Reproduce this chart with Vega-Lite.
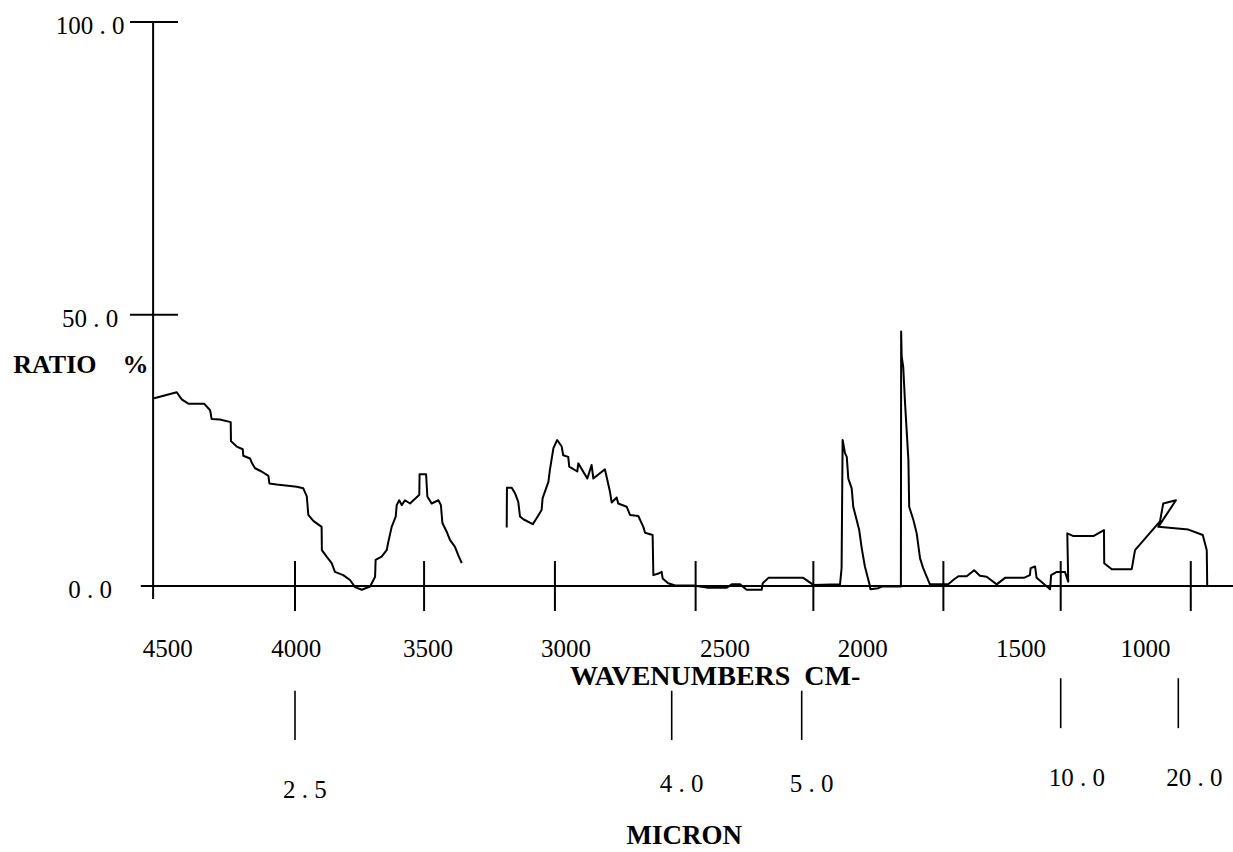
{
  "$schema": "https://vega.github.io/schema/vega-lite/v6.json",
  "width": 1233,
  "height": 852,
  "autosize": "none",
  "padding": 0,
  "background": "white",
  "config": {"view": {"stroke": null}, "font": "Liberation Serif"},
  "datasets": {
    "spectrum": [
      {"i":1,"s":1,"w":4561,"r":34.6},{"i":2,"s":1,"w":4471,"r":35.7},{"i":3,"s":1,"w":4451,"r":34.4},{"i":4,"s":1,"w":4425,"r":33.6},
      {"i":5,"s":1,"w":4362,"r":33.6},{"i":6,"s":1,"w":4338,"r":32.4},{"i":7,"s":1,"w":4332,"r":30.8},{"i":8,"s":1,"w":4299,"r":30.7},
      {"i":9,"s":1,"w":4256,"r":30.2},{"i":10,"s":1,"w":4255,"r":26.7},{"i":11,"s":1,"w":4232,"r":25.7},{"i":12,"s":1,"w":4208,"r":25.2},
      {"i":13,"s":1,"w":4206,"r":24.0},{"i":14,"s":1,"w":4179,"r":23.5},{"i":15,"s":1,"w":4172,"r":22.7},{"i":16,"s":1,"w":4159,"r":21.7},
      {"i":17,"s":1,"w":4133,"r":21.1},{"i":18,"s":1,"w":4106,"r":20.3},{"i":19,"s":1,"w":4102,"r":18.9},{"i":20,"s":1,"w":4073,"r":18.7},
      {"i":21,"s":1,"w":3993,"r":18.3},{"i":22,"s":1,"w":3967,"r":18.0},{"i":23,"s":1,"w":3953,"r":16.5},{"i":24,"s":1,"w":3947,"r":13.1},
      {"i":25,"s":1,"w":3927,"r":12.0},{"i":26,"s":1,"w":3894,"r":10.9},{"i":27,"s":1,"w":3893,"r":6.6},{"i":28,"s":1,"w":3874,"r":5.4},
      {"i":29,"s":1,"w":3854,"r":4.2},{"i":30,"s":1,"w":3841,"r":2.6},{"i":31,"s":1,"w":3808,"r":2.0},{"i":32,"s":1,"w":3781,"r":1.1},
      {"i":33,"s":1,"w":3761,"r":-0.2},{"i":34,"s":1,"w":3734,"r":-0.7},{"i":35,"s":1,"w":3701,"r":-0.1},{"i":36,"s":1,"w":3681,"r":1.7},
      {"i":37,"s":1,"w":3679,"r":4.8},{"i":38,"s":1,"w":3655,"r":5.4},{"i":39,"s":1,"w":3635,"r":6.6},{"i":40,"s":1,"w":3628,"r":8.2},
      {"i":41,"s":1,"w":3615,"r":10.9},{"i":42,"s":1,"w":3599,"r":12.8},{"i":43,"s":1,"w":3595,"r":14.9},{"i":44,"s":1,"w":3585,"r":15.8},
      {"i":45,"s":1,"w":3575,"r":14.9},{"i":46,"s":1,"w":3562,"r":15.8},{"i":47,"s":1,"w":3542,"r":15.2},{"i":48,"s":1,"w":3505,"r":16.8},
      {"i":49,"s":1,"w":3504,"r":20.6},{"i":50,"s":1,"w":3478,"r":20.6},{"i":51,"s":1,"w":3473,"r":16.5},{"i":52,"s":1,"w":3456,"r":15.2},
      {"i":53,"s":1,"w":3429,"r":15.8},{"i":54,"s":1,"w":3419,"r":14.9},{"i":55,"s":1,"w":3413,"r":11.6},{"i":56,"s":1,"w":3396,"r":10.0},
      {"i":57,"s":1,"w":3383,"r":8.5},{"i":58,"s":1,"w":3363,"r":7.2},{"i":59,"s":1,"w":3350,"r":5.7},{"i":60,"s":1,"w":3336,"r":4.2},
      {"i":101,"s":2,"w":3157,"r":10.8},{"i":102,"s":2,"w":3156,"r":18.1},{"i":103,"s":2,"w":3137,"r":18.1},{"i":104,"s":2,"w":3124,"r":17.1},
      {"i":105,"s":2,"w":3111,"r":15.5},{"i":106,"s":2,"w":3104,"r":12.8},{"i":107,"s":2,"w":3091,"r":12.3},{"i":108,"s":2,"w":3053,"r":11.4},
      {"i":109,"s":2,"w":3038,"r":12.5},{"i":110,"s":2,"w":3018,"r":14.0},{"i":111,"s":2,"w":3014,"r":16.2},{"i":112,"s":2,"w":2991,"r":19.2},
      {"i":113,"s":2,"w":2985,"r":21.4},{"i":114,"s":2,"w":2971,"r":25.4},{"i":115,"s":2,"w":2956,"r":26.9},{"i":116,"s":2,"w":2938,"r":25.7},
      {"i":117,"s":2,"w":2932,"r":24.1},{"i":118,"s":2,"w":2912,"r":23.8},{"i":119,"s":2,"w":2908,"r":22.0},{"i":120,"s":2,"w":2876,"r":21.1},
      {"i":121,"s":2,"w":2872,"r":22.6},{"i":122,"s":2,"w":2836,"r":19.8},{"i":123,"s":2,"w":2819,"r":22.3},{"i":124,"s":2,"w":2812,"r":19.8},
      {"i":125,"s":2,"w":2766,"r":21.5},{"i":126,"s":2,"w":2746,"r":17.4},{"i":127,"s":2,"w":2739,"r":15.4},{"i":128,"s":2,"w":2719,"r":16.3},
      {"i":129,"s":2,"w":2713,"r":15.2},{"i":130,"s":2,"w":2679,"r":14.6},{"i":131,"s":2,"w":2666,"r":13.1},{"i":132,"s":2,"w":2633,"r":12.9},
      {"i":133,"s":2,"w":2613,"r":10.9},{"i":134,"s":2,"w":2606,"r":9.8},{"i":135,"s":2,"w":2576,"r":9.4},{"i":136,"s":2,"w":2573,"r":2.0},
      {"i":137,"s":2,"w":2553,"r":2.3},{"i":138,"s":2,"w":2540,"r":2.6},{"i":139,"s":2,"w":2536,"r":1.4},{"i":140,"s":2,"w":2514,"r":0.5},
      {"i":141,"s":2,"w":2487,"r":0.1},{"i":142,"s":2,"w":2417,"r":0.1},{"i":143,"s":2,"w":2365,"r":-0.3},{"i":144,"s":2,"w":2288,"r":-0.3},
      {"i":145,"s":2,"w":2269,"r":0.3},{"i":146,"s":2,"w":2237,"r":0.3},{"i":147,"s":2,"w":2212,"r":-0.7},{"i":148,"s":2,"w":2154,"r":-0.7},
      {"i":149,"s":2,"w":2150,"r":0.5},{"i":150,"s":2,"w":2128,"r":1.5},{"i":151,"s":2,"w":1994,"r":1.5},{"i":152,"s":2,"w":1955,"r":0.2},
      {"i":153,"s":2,"w":1852,"r":0.3},{"i":154,"s":2,"w":1846,"r":3.3},{"i":155,"s":2,"w":1842,"r":26.9},{"i":156,"s":2,"w":1833,"r":24.5},
      {"i":157,"s":2,"w":1826,"r":23.8},{"i":158,"s":2,"w":1820,"r":19.8},{"i":159,"s":2,"w":1807,"r":18.0},{"i":160,"s":2,"w":1801,"r":14.6},
      {"i":161,"s":2,"w":1788,"r":12.2},{"i":162,"s":2,"w":1778,"r":10.3},{"i":163,"s":2,"w":1768,"r":6.9},{"i":164,"s":2,"w":1756,"r":3.6},
      {"i":165,"s":2,"w":1736,"r":-0.1},{"i":166,"s":2,"w":1735,"r":-0.6},{"i":167,"s":2,"w":1704,"r":-0.4},{"i":168,"s":2,"w":1691,"r":-0.1},
      {"i":169,"s":2,"w":1617,"r":-0.1},{"i":170,"s":2,"w":1616,"r":46.9},{"i":171,"s":2,"w":1614,"r":42.3},{"i":172,"s":2,"w":1608,"r":40.4},
      {"i":173,"s":2,"w":1601,"r":33.7},{"i":174,"s":2,"w":1588,"r":23.2},{"i":175,"s":2,"w":1585,"r":14.6},{"i":176,"s":2,"w":1569,"r":12.2},
      {"i":177,"s":2,"w":1556,"r":9.7},{"i":178,"s":2,"w":1543,"r":5.1},{"i":179,"s":2,"w":1531,"r":3.3},{"i":180,"s":2,"w":1505,"r":0.3},
      {"i":181,"s":2,"w":1434,"r":0.3},{"i":182,"s":2,"w":1415,"r":1.1},{"i":183,"s":2,"w":1395,"r":1.8},{"i":184,"s":2,"w":1363,"r":1.8},
      {"i":185,"s":2,"w":1334,"r":2.9},{"i":186,"s":2,"w":1312,"r":1.9},{"i":187,"s":2,"w":1286,"r":1.7},{"i":188,"s":2,"w":1247,"r":0.3},
      {"i":189,"s":2,"w":1215,"r":1.5},{"i":190,"s":2,"w":1142,"r":1.5},{"i":191,"s":2,"w":1119,"r":2.0},{"i":192,"s":2,"w":1116,"r":3.3},
      {"i":193,"s":2,"w":1099,"r":3.6},{"i":194,"s":2,"w":1093,"r":1.5},{"i":195,"s":2,"w":1041,"r":-0.6},{"i":196,"s":2,"w":1037,"r":2.0},
      {"i":197,"s":2,"w":1015,"r":2.6},{"i":198,"s":2,"w":982,"r":2.6},{"i":199,"s":2,"w":968,"r":0.8},{"i":200,"s":2,"w":972,"r":9.7},
      {"i":201,"s":2,"w":946,"r":9.2},{"i":202,"s":2,"w":861,"r":9.2},{"i":203,"s":2,"w":816,"r":10.3},{"i":204,"s":2,"w":815,"r":4.2},
      {"i":205,"s":2,"w":783,"r":3.1},{"i":206,"s":2,"w":698,"r":3.1},{"i":207,"s":2,"w":684,"r":6.6},{"i":208,"s":2,"w":578,"r":11.9},
      {"i":209,"s":2,"w":564,"r":15.2},{"i":210,"s":2,"w":510,"r":15.8},{"i":211,"s":2,"w":585,"r":10.9},{"i":212,"s":2,"w":457,"r":10.4},
      {"i":213,"s":2,"w":396,"r":9.4},{"i":214,"s":2,"w":379,"r":6.6},{"i":215,"s":2,"w":377,"r":-0.1}
    ],
    "wticks": [{"w":4000},{"w":3486},{"w":2965},{"w":2408},{"w":1955},{"w":1453},{"w":1000},{"w":447}],
    "wlabels": [
      {"w":4507,"label":"4500"},{"w":3995,"label":"4000"},{"w":3470,"label":"3500"},{"w":2921,"label":"3000"},
      {"w":2295,"label":"2500"},{"w":1764,"label":"2000"},{"w":1153,"label":"1500"},{"w":639,"label":"1000"}
    ],
    "yticks": [{"r":0,"label":"0 . 0"},{"r":50,"label":"50 . 0"},{"r":100,"label":"100 . 0"}],
    "microns": [
      {"micron":2.5,"w":4000,"label":"2 . 5"},{"micron":4.0,"w":2500,"label":"4 . 0"},{"micron":5.0,"w":2000,"label":"5 . 0"},
      {"micron":10.0,"w":1000,"label":"10 . 0"},{"micron":20.0,"w":500,"label":"20 . 0"}
    ]
  },
  "layer": [
    {
      "data": {"name": "spectrum"},
      "mark": {"type": "line", "color": "black", "strokeWidth": 2, "strokeJoin": "round"},
      "encoding": {
        "x": {"field": "w", "type": "quantitative", "axis": null, "scale": {"domain":[4000,2500,2000,1000,500],"range":[295,671.7,801.7,1060.7,1178.3],"nice":false,"zero":false}},
        "y": {"field": "r", "type": "quantitative", "axis": null, "scale": {"domain":[0,50,100],"range":[586,314.7,22],"nice":false,"zero":false}},
        "detail": {"field": "s", "type": "nominal"},
        "order": {"field": "i", "type": "quantitative"}
      }
    },
    {
      "data": {"values": [{}]},
      "mark": {"type": "rule", "color": "black", "strokeWidth": 2},
      "encoding": {
        "x": {"datum": 4565, "type": "quantitative", "axis": null, "scale": {"domain":[4000,2500,2000,1000,500],"range":[295,671.7,801.7,1060.7,1178.3],"nice":false,"zero":false}},
        "y": {"datum": 100, "type": "quantitative", "axis": null, "scale": {"domain":[0,50,100],"range":[586,314.7,22],"nice":false,"zero":false}},
        "y2": {"datum": -2.4}
      }
    },
    {
      "data": {"values": [{}]},
      "mark": {"type": "rule", "color": "black", "strokeWidth": 2},
      "encoding": {
        "x": {"datum": 4614, "type": "quantitative", "axis": null, "scale": {"domain":[4000,2500,2000,1000,500],"range":[295,671.7,801.7,1060.7,1178.3],"nice":false,"zero":false}},
        "x2": {"datum": 250},
        "y": {"datum": 0, "type": "quantitative", "axis": null, "scale": {"domain":[0,50,100],"range":[586,314.7,22],"nice":false,"zero":false}}
      }
    },
    {
      "data": {"name": "yticks"},
      "transform": [{"filter": "datum.r > 0"}],
      "mark": {"type": "rule", "color": "black", "strokeWidth": 2},
      "encoding": {
        "x": {"datum": 4657, "type": "quantitative", "axis": null, "scale": {"domain":[4000,2500,2000,1000,500],"range":[295,671.7,801.7,1060.7,1178.3],"nice":false,"zero":false}},
        "x2": {"datum": 4466},
        "y": {"field": "r", "type": "quantitative", "axis": null, "scale": {"domain":[0,50,100],"range":[586,314.7,22],"nice":false,"zero":false}}
      }
    },
    {
      "data": {"name": "yticks"},
      "mark": {"type": "text", "color": "black", "fontSize": 25, "align": "center", "baseline": "alphabetic", "dy": 12, "font": "Liberation Serif"},
      "encoding": {
        "x": {"datum": 4816, "type": "quantitative", "axis": null, "scale": {"domain":[4000,2500,2000,1000,500],"range":[295,671.7,801.7,1060.7,1178.3],"nice":false,"zero":false}},
        "y": {"field": "r", "type": "quantitative", "axis": null, "scale": {"domain":[0,50,100],"range":[586,314.7,22],"nice":false,"zero":false}},
        "text": {"field": "label"}
      }
    },
    {
      "data": {"name": "wticks"},
      "mark": {"type": "rule", "color": "black", "strokeWidth": 2},
      "encoding": {
        "x": {"field": "w", "type": "quantitative", "axis": null, "scale": {"domain":[4000,2500,2000,1000,500],"range":[295,671.7,801.7,1060.7,1178.3],"nice":false,"zero":false}},
        "y": {"datum": 4.6, "type": "quantitative", "axis": null, "scale": {"domain":[0,50,100],"range":[586,314.7,22],"nice":false,"zero":false}},
        "y2": {"datum": -4.6}
      }
    },
    {
      "data": {"name": "wlabels"},
      "mark": {"type": "text", "color": "black", "fontSize": 25, "align": "center", "baseline": "alphabetic", "font": "Liberation Serif"},
      "encoding": {
        "x": {"field": "w", "type": "quantitative", "axis": null, "scale": {"domain":[4000,2500,2000,1000,500],"range":[295,671.7,801.7,1060.7,1178.3],"nice":false,"zero":false}},
        "y": {"datum": -13.0, "type": "quantitative", "axis": null, "scale": {"domain":[0,50,100],"range":[586,314.7,22],"nice":false,"zero":false}},
        "text": {"field": "label"}
      }
    },
    {
      "data": {"name": "microns"},
      "transform": [{"filter": "datum.micron < 8"}],
      "mark": {"type": "rule", "color": "black", "strokeWidth": 1.6},
      "encoding": {
        "x": {"field": "w", "type": "quantitative", "axis": null, "scale": {"domain":[4000,2500,2000,1000,500],"range":[295,671.7,801.7,1060.7,1178.3],"nice":false,"zero":false}},
        "y": {"datum": -19.3, "type": "quantitative", "axis": null, "scale": {"domain":[0,50,100],"range":[586,314.7,22],"nice":false,"zero":false}},
        "y2": {"datum": -28.4}
      }
    },
    {
      "data": {"name": "microns"},
      "transform": [{"filter": "datum.micron > 8"}],
      "mark": {"type": "rule", "color": "black", "strokeWidth": 1.6},
      "encoding": {
        "x": {"field": "w", "type": "quantitative", "axis": null, "scale": {"domain":[4000,2500,2000,1000,500],"range":[295,671.7,801.7,1060.7,1178.3],"nice":false,"zero":false}},
        "y": {"datum": -17.0, "type": "quantitative", "axis": null, "scale": {"domain":[0,50,100],"range":[586,314.7,22],"nice":false,"zero":false}},
        "y2": {"datum": -26.2}
      }
    },
    {
      "data": {"name": "microns"},
      "transform": [{"filter": "datum.micron < 3"}],
      "mark": {"type": "text", "color": "black", "fontSize": 25, "align": "left", "dx": -12, "baseline": "alphabetic", "font": "Liberation Serif"},
      "encoding": {
        "x": {"field": "w", "type": "quantitative", "axis": null, "scale": {"domain":[4000,2500,2000,1000,500],"range":[295,671.7,801.7,1060.7,1178.3],"nice":false,"zero":false}},
        "y": {"datum": -39.1, "type": "quantitative", "axis": null, "scale": {"domain":[0,50,100],"range":[586,314.7,22],"nice":false,"zero":false}},
        "text": {"field": "label"}
      }
    },
    {
      "data": {"name": "microns"},
      "transform": [{"filter": "datum.micron > 3 && datum.micron < 8"}],
      "mark": {"type": "text", "color": "black", "fontSize": 25, "align": "left", "dx": -12, "baseline": "alphabetic", "font": "Liberation Serif"},
      "encoding": {
        "x": {"field": "w", "type": "quantitative", "axis": null, "scale": {"domain":[4000,2500,2000,1000,500],"range":[295,671.7,801.7,1060.7,1178.3],"nice":false,"zero":false}},
        "y": {"datum": -37.9, "type": "quantitative", "axis": null, "scale": {"domain":[0,50,100],"range":[586,314.7,22],"nice":false,"zero":false}},
        "text": {"field": "label"}
      }
    },
    {
      "data": {"name": "microns"},
      "transform": [{"filter": "datum.micron > 8"}],
      "mark": {"type": "text", "color": "black", "fontSize": 25, "align": "left", "dx": -12, "baseline": "alphabetic", "font": "Liberation Serif"},
      "encoding": {
        "x": {"field": "w", "type": "quantitative", "axis": null, "scale": {"domain":[4000,2500,2000,1000,500],"range":[295,671.7,801.7,1060.7,1178.3],"nice":false,"zero":false}},
        "y": {"datum": -36.9, "type": "quantitative", "axis": null, "scale": {"domain":[0,50,100],"range":[586,314.7,22],"nice":false,"zero":false}},
        "text": {"field": "label"}
      }
    },
    {
      "data": {"values": [{"title": "RATIO\u00a0\u00a0\u00a0\u00a0%"}]},
      "mark": {"type": "text", "color": "black", "fontSize": 26, "fontWeight": "bold", "align": "left", "baseline": "alphabetic", "font": "Liberation Serif"},
      "encoding": {
        "x": {"datum": 5122, "type": "quantitative", "axis": null, "scale": {"domain":[4000,2500,2000,1000,500],"range":[295,671.7,801.7,1060.7,1178.3],"nice":false,"zero":false}},
        "y": {"datum": 39.3, "type": "quantitative", "axis": null, "scale": {"domain":[0,50,100],"range":[586,314.7,22],"nice":false,"zero":false}},
        "text": {"field": "title"}
      }
    },
    {
      "data": {"values": [{"title": "WAVENUMBERS\u00a0\u00a0CM-"}]},
      "mark": {"type": "text", "color": "black", "fontSize": 28, "fontWeight": "bold", "align": "center", "baseline": "alphabetic", "font": "Liberation Serif"},
      "encoding": {
        "x": {"datum": 2333, "type": "quantitative", "axis": null, "scale": {"domain":[4000,2500,2000,1000,500],"range":[295,671.7,801.7,1060.7,1178.3],"nice":false,"zero":false}},
        "y": {"datum": -18.2, "type": "quantitative", "axis": null, "scale": {"domain":[0,50,100],"range":[586,314.7,22],"nice":false,"zero":false}},
        "text": {"field": "title"}
      }
    },
    {
      "data": {"values": [{"title": "MICRON"}]},
      "mark": {"type": "text", "color": "black", "fontSize": 27, "fontWeight": "bold", "align": "center", "baseline": "alphabetic", "font": "Liberation Serif"},
      "encoding": {
        "x": {"datum": 2452, "type": "quantitative", "axis": null, "scale": {"domain":[4000,2500,2000,1000,500],"range":[295,671.7,801.7,1060.7,1178.3],"nice":false,"zero":false}},
        "y": {"datum": -47.5, "type": "quantitative", "axis": null, "scale": {"domain":[0,50,100],"range":[586,314.7,22],"nice":false,"zero":false}},
        "text": {"field": "title"}
      }
    }
  ]
}
